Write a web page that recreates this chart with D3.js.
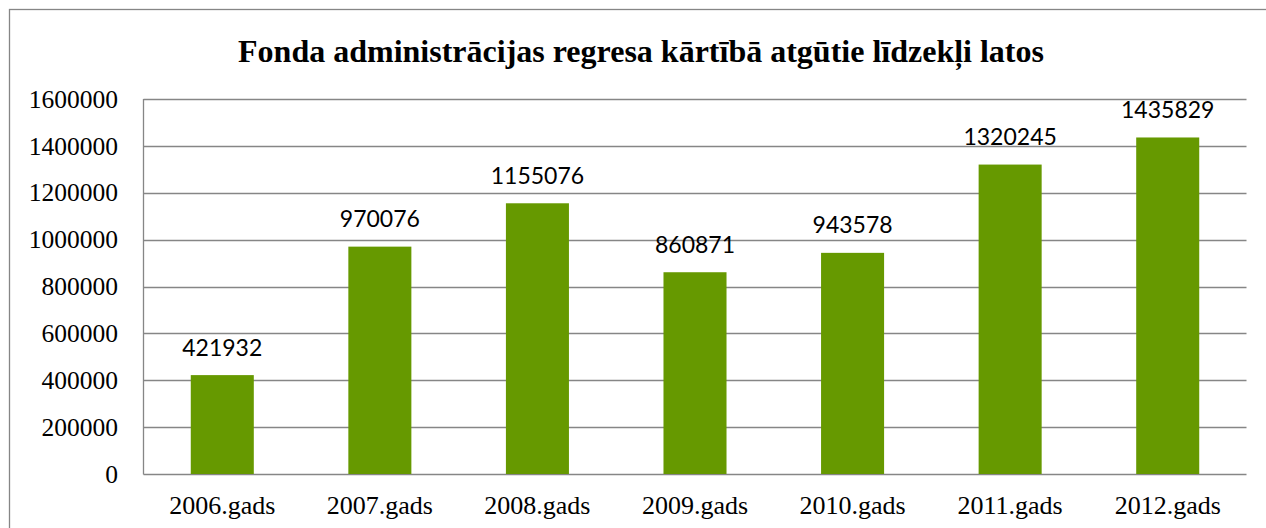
<!DOCTYPE html>
<html><head><meta charset="utf-8">
<script src="https://cdn.jsdelivr.net/npm/d3@7"></script>
<style>html,body{margin:0;padding:0;background:#fff;overflow:hidden}</style>
</head><body>
<svg id="c" width="1266" height="528"></svg>
<script>
const title = "Fonda administrācijas regresa kārtībā atgūtie līdzekļi latos";
const categories = ["2006.gads","2007.gads","2008.gads","2009.gads","2010.gads","2011.gads","2012.gads"];
const values = [421932, 970076, 1155076, 860871, 943578, 1320245, 1435829];
const yTicks = [0, 200000, 400000, 600000, 800000, 1000000, 1200000, 1400000, 1600000];

const svg = d3.select("#c");
const plot = {left: 143.5, right: 1246.5, top: 99, bottom: 474};

svg.append("rect").attr("x", 9.5).attr("y", 9.5).attr("width", 1300).attr("height", 600)
  .attr("fill", "#fff").attr("stroke", "#868686").attr("stroke-width", 1.3);

const x = d3.scaleBand().domain(categories).range([plot.left, plot.right])
  .paddingInner(0.6).paddingOuter(0.3);
const y = d3.scaleLinear().domain([0, 1600000]).range([plot.bottom, plot.top]);

svg.append("g").selectAll("line").data(yTicks).join("line")
  .attr("x1", plot.left).attr("x2", plot.right)
  .attr("y1", d => Math.round(y(d)) + 0.5).attr("y2", d => Math.round(y(d)) + 0.5)
  .attr("stroke", "#868686").attr("stroke-width", 1.3);

svg.append("line").attr("x1", plot.left).attr("x2", plot.left)
  .attr("y1", plot.top).attr("y2", plot.bottom + 0.5)
  .attr("stroke", "#868686").attr("stroke-width", 1.3);

svg.append("g").selectAll("text").data(yTicks).join("text")
  .attr("x", 118).attr("y", d => y(d)).attr("dy", "0.34em")
  .attr("text-anchor", "end")
  .attr("font-family", "'Liberation Serif','Times New Roman',serif")
  .attr("font-size", 25.5).attr("fill", "#000")
  .text(d => d);

svg.append("g").selectAll("rect").data(values).join("rect")
  .attr("x", (d, i) => x(categories[i])).attr("width", x.bandwidth())
  .attr("y", d => y(d)).attr("height", d => y(0) - y(d))
  .attr("fill", "#669900");

svg.append("g").selectAll("text").data(values).join("text")
  .attr("x", (d, i) => x(categories[i]) + x.bandwidth() / 2)
  .attr("y", d => y(d) - 19.5)
  .attr("text-anchor", "middle")
  .attr("font-family", "Lato, 'Open Sans', sans-serif")
  .attr("font-size", 23).attr("fill", "#000")
  .text(d => d);

svg.append("g").selectAll("text").data(categories).join("text")
  .attr("x", d => x(d) + x.bandwidth() / 2).attr("y", 514)
  .attr("text-anchor", "middle")
  .attr("font-family", "'Liberation Serif','Times New Roman',serif")
  .attr("font-size", 26).attr("fill", "#000")
  .text(d => d);

svg.append("text").attr("x", 641).attr("y", 62)
  .attr("text-anchor", "middle")
  .attr("font-family", "'Liberation Serif','Times New Roman',serif")
  .attr("font-weight", "bold").attr("font-size", 32).attr("fill", "#000")
  .text(title);
</script>
</body></html>
